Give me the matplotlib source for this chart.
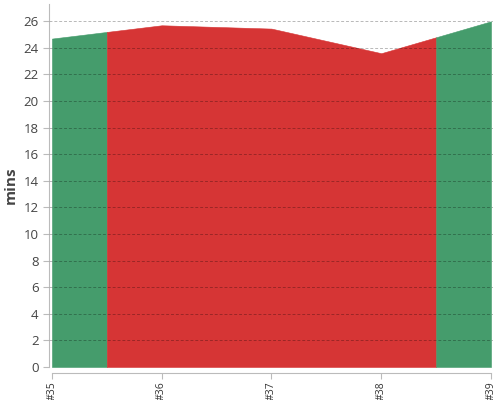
import numpy as np
import matplotlib.pyplot as plt

plt.rcParams['font.family'] = ['Open Sans', 'DejaVu Sans']

builds = ['#35', '#36', '#37', '#38', '#39']
durations = [24.7, 25.7, 25.45, 23.6, 26.0]
passed = [True, False, False, False, True]

GREEN = '#459c6c'
RED = '#d63535'

fig = plt.figure(figsize=(5, 4), dpi=100)
ax = fig.add_axes([0.098, 0.0825, 0.888, 0.9075])

xs = np.arange(len(builds))
last = len(builds) - 1

# group consecutive builds with the same result, so one polygon per run
runs = []
start = 0
for i in range(1, len(builds) + 1):
    if i == len(builds) or passed[i] != passed[start]:
        runs.append((start, i - 1, passed[start]))
        start = i

for first, end, ok in runs:
    lo = max(first - 0.5, 0)
    hi = min(end + 0.5, last)
    seg_x = [lo] + [x for x in xs if lo < x < hi] + [hi]
    seg_y = np.interp(seg_x, xs, durations)
    c = GREEN if ok else RED
    ax.fill_between(seg_x, 0, seg_y, facecolor=c, edgecolor=c,
                    linewidth=0.4, zorder=1)

ax.set_xlim(-0.027, 4.018)
ax.set_ylim(0, 27.3)
ax.set_yticks(range(0, 27, 2))
ax.set_xticks(xs)
ax.set_xticklabels(builds)
ax.tick_params(axis='x', labelrotation=90, labelsize=7.5, labelcolor='#333333',
               length=4, width=0.8, color='#bbbbbb', pad=2)
ax.tick_params(axis='y', labelsize=9.5, labelcolor='#444444', length=4,
               width=0.8, color='#bbbbbb')
ax.set_ylabel('mins', fontsize=11, fontweight='bold', color='#444444')

ax.set_axisbelow(False)
ax.grid(axis='y', color='black', alpha=0.28, linestyle=(0, (3, 2)),
        linewidth=0.7, zorder=2)

for side in ['top', 'right']:
    ax.spines[side].set_visible(False)
ax.spines['bottom'].set_position(('outward', 4))
ax.spines['bottom'].set_bounds(0, 4)
ax.spines['left'].set_color('#bbbbbb')
ax.spines['bottom'].set_color('#bbbbbb')

fig.savefig('out.png', dpi=100)
